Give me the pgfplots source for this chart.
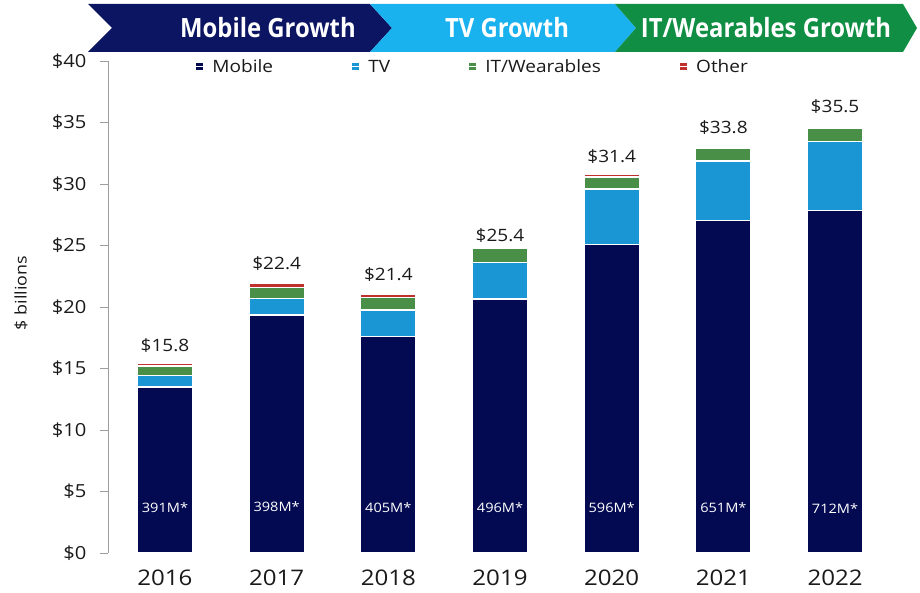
\documentclass[border=0pt]{standalone}
\usepackage{pgfplots}
\pgfplotsset{compat=1.18}
\usepackage{fontspec}
\setmainfont{Open Sans}[FakeStretch=1.12]
\newfontfamily\bannerfont{Open Sans}[FakeStretch=0.9]
\definecolor{mobilec}{HTML}{040A52}
\definecolor{tvc}{HTML}{1A96D4}
\definecolor{itc}{HTML}{4A8F48}
\definecolor{otherc}{HTML}{C0302C}
\definecolor{bnavy}{HTML}{0C1562}
\definecolor{bblue}{HTML}{19B2EE}
\definecolor{bgreen}{HTML}{108E44}
\definecolor{txt}{HTML}{1A1A1A}
\tikzset{toplab/.style={font=\fontsize{17}{20}\selectfont, text=txt},
         inlab/.style={font=\fontsize{13}{15}\selectfont, text=white}}
\begin{document}
\begin{tikzpicture}[x=1pt,y=1pt]
\useasboundingbox (0,0) rectangle (920,592);
% banner
\fill[bnavy] (88,588) -- (370,588) -- (392,564) -- (370,540) -- (88,540) -- (112,564) -- cycle;
\fill[bblue] (370,588) -- (615,588) -- (636,564) -- (615,540) -- (370,540) -- (392,564) -- cycle;
\fill[bgreen] (615,588) -- (903,588) -- (917,564) -- (903,540) -- (615,540) -- (636,564) -- cycle;
\node[white, font=\bannerfont\bfseries\fontsize{26.5}{30}\selectfont] at (268,564) {Mobile Growth};
\node[white, font=\bannerfont\bfseries\fontsize{26.5}{30}\selectfont] at (507,564) {TV Growth};
\node[white, font=\bannerfont\bfseries\fontsize{26.5}{30}\selectfont] at (766,564) {IT/Wearables Growth};
\node[rotate=90, text=txt, font=\fontsize{16}{19}\selectfont] at (21,299) {\$ billions};
\begin{axis}[
  at={(108pt,39pt)}, anchor=south west, scale only axis,
  width=784pt, height=492pt,
  xmin=-0.51, xmax=6.51, ymin=0, ymax=40,
  ybar stacked, bar width=55pt,
  axis y line*=left, axis x line*=bottom,
  x axis line style={draw=none},
  y axis line style={draw=black!38, line width=0.8pt},
  ytick={0,5,...,40},
  yticklabels={\$0,\$5,\$10,\$15,\$20,\$25,\$30,\$35,\$40},
  xtick={0,1,2,3,4,5,6},
  xticklabels={2016,2017,2018,2019,2020,2021,2022},
  tick align=outside, major tick length=8pt,
  ytick style={draw=black!38, line width=0.8pt},
  xtick style={draw=none},
  yticklabel style={font=\fontsize{18}{21}\selectfont, text=txt, xshift=-10pt},
  xticklabel style={font=\fontsize{21.5}{24}\selectfont, text=txt, anchor=center, yshift=-17pt},
  legend image code/.code={\fill[#1] (0pt,-4pt) rectangle (8pt,4pt); \path (0pt,0pt) -- (14pt,0pt);},
  legend style={at={(0.465,0.988)}, anchor=center, draw=none, fill=none,
    legend columns=4, font=\fontsize{17}{20}\selectfont, text=txt,
    /tikz/every even column/.append style={column sep=76pt}},
  legend cell align=left,
  clip=false,
]
\addplot[fill=mobilec, draw=white, line width=1.2pt] coordinates {(0,13.5) (1,19.35) (2,17.6) (3,20.65) (4,25.05) (5,27.0) (6,27.85)};
\addlegendentry{Mobile}
\addplot[fill=tvc, draw=white, line width=1.2pt] coordinates {(0,0.9) (1,1.35) (2,2.15) (3,3.0) (4,4.55) (5,4.87) (6,5.6)};
\addlegendentry{TV}
\addplot[fill=itc, draw=white, line width=1.2pt] coordinates {(0,0.8) (1,0.9) (2,1.05) (3,1.15) (4,0.97) (5,1.06) (6,1.1)};
\addlegendentry{IT/Wearables}
\addplot[fill=otherc, draw=white, line width=1.2pt] coordinates {(0,0.25) (1,0.3) (2,0.25) (3,0.0) (4,0.24) (5,0.0) (6,0.0)};
\addlegendentry{Other}
\node[toplab] at (axis cs:0,16.9) {\$15.8};
\node[toplab] at (axis cs:1,23.5) {\$22.4};
\node[toplab] at (axis cs:2,22.6) {\$21.4};
\node[toplab] at (axis cs:3,25.8) {\$25.4};
\node[toplab] at (axis cs:4,32.2) {\$31.4};
\node[toplab] at (axis cs:5,34.55) {\$33.8};
\node[toplab] at (axis cs:6,36.3) {\$35.5};
\coordinate (m0) at (axis cs:0,3.65);
\coordinate (m1) at (axis cs:1,3.75);
\coordinate (m2) at (axis cs:2,3.65);
\coordinate (m3) at (axis cs:3,3.65);
\coordinate (m4) at (axis cs:4,3.65);
\coordinate (m5) at (axis cs:5,3.65);
\coordinate (m6) at (axis cs:6,3.65);
\end{axis}
\node[inlab] at (m0) {391M*};
\node[inlab] at (m1) {398M*};
\node[inlab] at (m2) {405M*};
\node[inlab] at (m3) {496M*};
\node[inlab] at (m4) {596M*};
\node[inlab] at (m5) {651M*};
\node[inlab] at (m6) {712M*};
\end{tikzpicture}
\end{document}
